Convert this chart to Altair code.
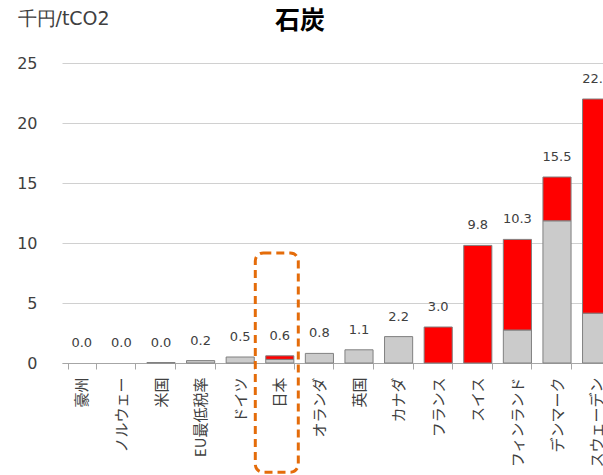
import altair as alt
import pandas as pd

countries = ["豪州", "ノルウェー", "米国", "EU最低税率", "ドイツ", "日本", "オランダ",
             "英国", "カナダ", "フランス", "スイス", "フィンランド", "デンマーク", "スウェーデン"]
energy_tax = [0.0, 0.0, 0.04, 0.2, 0.5, 0.3, 0.8, 1.1, 2.2, 0.0, 0.0, 2.75, 11.85, 4.15]
carbon_tax = [0.0, 0.0, 0.0, 0.0, 0.0, 0.3, 0.0, 0.0, 0.0, 3.0, 9.8, 7.55, 3.65, 17.85]
series_names = ["エネルギー税", "炭素税"]
series_colors = ["#cbcbcb", "#ff0000"]
y_ticks = [0, 5, 10, 15, 20, 25]
highlight_country = "日本"
highlight_top = 9.17
highlight_bottom = -9.1

FONT = "Noto Sans CJK JP"
NUM_FONT = "DejaVu Sans"
TEXT = "#404040"

rows = []
for i, c in enumerate(countries):
    rows.append({"country": c, "series": series_names[0], "value": energy_tax[i], "order": 0})
    rows.append({"country": c, "series": series_names[1], "value": carbon_tax[i], "order": 1})
df = pd.DataFrame(rows)

totals = [e + c for e, c in zip(energy_tax, carbon_tax)]
df_tot = pd.DataFrame({"country": countries, "total": totals,
                       "label": [f"{t:.1f}" for t in totals]})
df_box = pd.DataFrame({"country": [highlight_country]})

x_scale = alt.Scale(domain=countries, range=[0, 554.4], paddingInner=0.29, paddingOuter=0.145)
y_scale = alt.Scale(domain=[0, 25], nice=False, zero=True)

x_axis = alt.Axis(title=None, labelAngle=270, labelFontSize=15, labelColor=TEXT,
                  labelPadding=8, tickSize=6, tickColor="#a6a6a6", domainColor="#a6a6a6",
                  tickBand="extent", grid=False, labelFont=FONT)
y_axis = alt.Axis(values=y_ticks, grid=True, gridColor="#d0d0d0", domain=False, ticks=False,
                  labelPadding=25, labelFontSize=16, labelColor=TEXT, labelFont=NUM_FONT,
                  title="千円/tCO2", titleAngle=0, titleX=-45, titleY=-45, titleAlign="left",
                  titleBaseline="middle", titleFontSize=19, titleFontWeight="normal",
                  titleColor=TEXT, titleFont=NUM_FONT)

bars = alt.Chart(df).transform_filter(alt.datum.value > 0).mark_bar(
    stroke="#808080", strokeWidth=1
).encode(
    x=alt.X("country:N", scale=x_scale, axis=x_axis, sort=countries),
    y=alt.Y("value:Q", scale=y_scale, axis=y_axis, stack="zero"),
    color=alt.Color("series:N", scale=alt.Scale(domain=series_names, range=series_colors), legend=None),
    order=alt.Order("order:Q", sort="ascending"),
)

labels = alt.Chart(df_tot).mark_text(dy=-20, fontSize=13, color=TEXT, baseline="middle", font=NUM_FONT).encode(
    x=alt.X("country:N", scale=x_scale, sort=countries),
    y=alt.Y("total:Q", scale=y_scale),
    text="label:N",
)

box = alt.Chart(df_box).mark_rect(
    width=43, xOffset=-3, fillOpacity=0, fill="white", stroke="#e46c0a", strokeWidth=3,
    strokeDash=[8, 5], cornerRadius=8
).encode(
    x=alt.X("country:N", scale=x_scale, sort=countries),
    y=alt.datum(highlight_top),
    y2=alt.datum(highlight_bottom),
)

chart = alt.layer(bars, labels, box).properties(
    width=541, height=300,
    autosize=alt.AutoSizeParams(type="none"),
    padding={"left": 62, "top": 63, "right": 0, "bottom": 112},
    title=alt.TitleParams("石炭", anchor="start", frame="group", dx=213, dy=29, fontSize=25,
                          fontWeight="bold", color="#000000", font=FONT),
).configure(font=FONT).configure_view(stroke=None)

chart.save("out.html", embed_options={"renderer": "svg", "actions": False})
